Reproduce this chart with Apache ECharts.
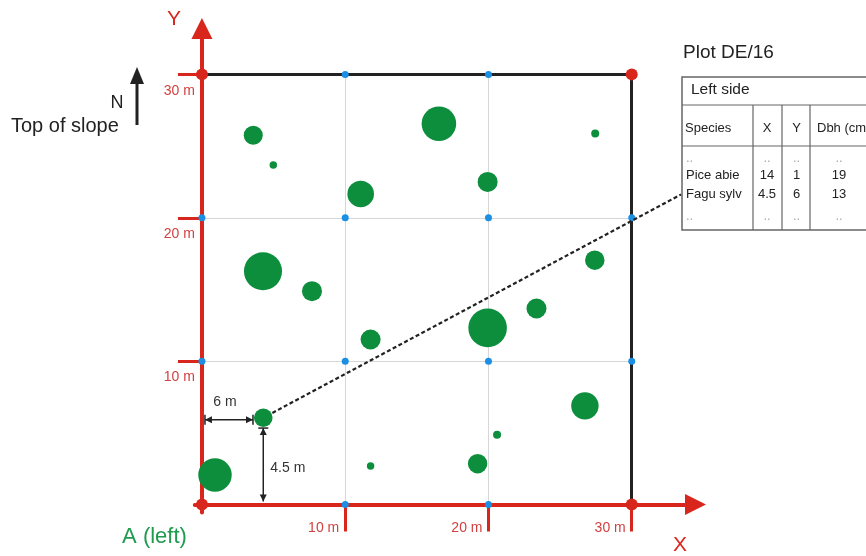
<!DOCTYPE html>
<html><head><meta charset="utf-8">
<script src="https://cdn.jsdelivr.net/npm/echarts@6/dist/echarts.min.js"></script>
<style>html,body{margin:0;padding:0;background:#fff}#c{width:866px;height:556px}</style>
</head><body><div id="c"></div>
<script>
// ---- data ----
const plotSize = 30;
const tickValues = [10, 20, 30];
const gridValues = [10, 20];
const treeX   = [3.58, 4.98, 11.08, 16.54, 27.45, 19.94, 4.26, 7.68, 11.77, 27.42, 23.35, 19.94, 4.28, 0.91, 11.77, 26.73, 20.6, 19.24];
const treeY   = [25.75, 23.68, 21.66, 26.56, 25.87, 22.5, 16.27, 14.88, 11.51, 17.04, 13.67, 12.32, 6.05, 2.06, 2.68, 6.88, 4.86, 2.85];
const treeDbh = [13.3, 5.2, 18.6, 24.2, 5.6, 14, 26.6, 14, 14, 13.6, 14, 27, 13, 23.4, 5.2, 19.2, 5.6, 13.6];
const featuredTree = 12;
const featuredDx = '6 m';
const featuredDy = '4.5 m';
const tableTitle = 'Plot DE/16';
const tableSide = 'Left side';
const tableColumns = ['Species', 'X', 'Y', 'Dbh (cm)'];
const tableSpecies = ['..', 'Pice abie', 'Fagu sylv', '..'];
const tableXv      = ['..', '14', '4.5', '..'];
const tableYv      = ['..', '1', '6', '..'];
const tableDbh     = ['..', '19', '13', '..'];

// ---- styles ----
const FONT = '"Liberation Sans", Arial, sans-serif';
const RED = '#d9261c', LABELRED = '#d2403f', GREEN = '#0c8e3c', BLUE = '#1b8fe3', INK = '#222';
const dbhToPx = 1.43;

const trees = treeX.map((x, i) => [x, treeY[i], treeDbh[i]]);
const nodes = [];
[0, ...gridValues, plotSize].forEach(a => [0, ...gridValues, plotSize].forEach(b => {
  const corner = (a === 0 || a === plotSize) && (b === 0 || b === plotSize);
  if (!corner) nodes.push([a, b]);
}));
const corners = [[0, 0], [0, plotSize], [plotSize, 0], [plotSize, plotSize]];
const gridLines = [];
gridValues.forEach(v => {
  gridLines.push({coords: [[v, 0], [v, plotSize]]});
  gridLines.push({coords: [[0, v], [plotSize, v]]});
});
const borderLines = [
  {coords: [[0, plotSize], [plotSize, plotSize]]},
  {coords: [[plotSize, plotSize], [plotSize, 0]]}
];

const chart = echarts.init(document.getElementById('c'), null, {renderer: 'canvas'});
const option = {
  animation: false,
  backgroundColor: '#fff',
  grid: {left: 194.8, right: 170.5, top: 28.5, bottom: 43.6, containLabel: false},
  xAxis: {
    type: 'value', min: -0.5, max: 34.45,
    axisLine: {show: true, onZero: true, symbol: ['none', 'triangle'], symbolSize: [21, 21], lineStyle: {color: RED, width: 4}},
    axisTick: {show: true, customValues: tickValues, length: 27, lineStyle: {color: RED, width: 3}},
    axisLabel: {show: true, customValues: tickValues, formatter: v => v + ' m', color: LABELRED, fontSize: 14, fontFamily: FONT, align: 'right', padding: [0, 6, 0, 0], margin: 9},
    splitLine: {show: false}
  },
  yAxis: {
    type: 'value', min: -0.55, max: 33.2,
    axisLine: {show: true, onZero: true, symbol: ['none', 'triangle'], symbolSize: [21, 21], lineStyle: {color: RED, width: 4}},
    axisTick: {show: true, customValues: tickValues, length: 24, lineStyle: {color: RED, width: 3}},
    axisLabel: {show: true, customValues: tickValues, formatter: v => '\n' + v + ' m', lineHeight: 33, color: LABELRED, fontSize: 14, fontFamily: FONT, verticalAlign: 'middle', margin: 0},
    splitLine: {show: false}
  },
  series: [
    {type: 'lines', coordinateSystem: 'cartesian2d', silent: true, z: 1, data: gridLines,
      lineStyle: {color: '#d6d6d6', width: 1, opacity: 1}},
    {type: 'lines', coordinateSystem: 'cartesian2d', silent: true, z: 2, data: borderLines,
      lineStyle: {color: INK, width: 3, opacity: 1}},
    {type: 'scatter', name: 'trees', z: 3, data: trees, symbol: 'circle',
      symbolSize: v => v[2] * dbhToPx, itemStyle: {color: GREEN, opacity: 1}, silent: true},
    {type: 'scatter', name: 'nodes', z: 4, data: nodes, symbol: 'circle', symbolSize: 7,
      itemStyle: {color: BLUE, opacity: 1}, silent: true},
    {type: 'scatter', name: 'corners', z: 5, data: corners, symbol: 'circle', symbolSize: 12,
      itemStyle: {color: RED, opacity: 1}, silent: true}
  ]
};
chart.setOption(option);

// ---- annotations (positions derived from the chart's own scales) ----
const P = (x, y) => chart.convertToPixel({gridIndex: 0}, [x, y]);
const g = [];
const txt = (x, y, s, size, color, align, extra) => g.push(Object.assign({
  type: 'text', x, y, silent: true, z: 20,
  style: {text: s, fontSize: size, fontFamily: FONT, fill: color, align: align || 'left', verticalAlign: 'middle'}
}, extra || {}));
const seg = (x1, y1, x2, y2, color, w, dash) => g.push({
  type: 'line', silent: true, z: 15, shape: {x1, y1, x2, y2},
  style: {stroke: color, lineWidth: w, lineDash: dash || null}
});
const tri = (pts, color) => g.push({type: 'polygon', silent: true, z: 16, shape: {points: pts}, style: {fill: color}});

// axis names & captions
txt(174, 19, 'Y', 21, RED, 'center');
txt(680, 545, 'X', 21, RED, 'center');
txt(154.5, 537, 'A (left)', 22, '#1f9a4f', 'center');
txt(117, 103, 'N', 18, INK, 'center');
txt(11, 126, 'Top of slope', 20, INK, 'left');
// north arrow
seg(137, 125, 137, 80, INK, 3);
tri([[137, 67], [130, 84], [144, 84]], INK);

// featured tree measurement
const ft = trees[featuredTree];
const c = P(ft[0], ft[1]);
const o = P(0, 0);
const r = ft[2] * dbhToPx / 2;
// horizontal dimension
const hy = c[1] + 2, hx1 = o[0] + 3, hx2 = c[0] - r - 1;
seg(hx1, hy, hx2, hy, INK, 1.5);
tri([[hx1, hy], [hx1 + 7, hy - 3.5], [hx1 + 7, hy + 3.5]], INK);
tri([[hx2, hy], [hx2 - 7, hy - 3.5], [hx2 - 7, hy + 3.5]], INK);
seg(hx1, hy - 5, hx1, hy + 5, INK, 1.5);
seg(hx2, hy - 5, hx2, hy + 5, INK, 1.5);
txt((hx1 + hx2) / 2 - 4, hy - 18, featuredDx, 14, '#333', 'center');
// vertical dimension
const vx = c[0], vy1 = c[1] + r + 1, vy2 = o[1] - 3;
seg(vx, vy1, vx, vy2, INK, 1.5);
tri([[vx, vy1], [vx - 3.5, vy1 + 7], [vx + 3.5, vy1 + 7]], INK);
tri([[vx, vy2], [vx - 3.5, vy2 - 7], [vx + 3.5, vy2 - 7]], INK);
seg(vx - 5, vy1, vx + 5, vy1, INK, 1.5);
txt(vx + 7, (vy1 + vy2) / 2 + 3, featuredDy, 14, '#333', 'left');

// table
const tL = 682, tT = 77, tB = 230, tR = 900;
const rowH1 = 105, rowH2 = 146;
const colX = [tL, 753, 782, 810, tR];
const TBL = '#666';
txt(683, 53, tableTitle, 19, INK, 'left');
g.push({type: 'rect', silent: true, z: 14, shape: {x: tL, y: tT, width: tR - tL, height: tB - tT},
  style: {fill: '#fff', stroke: TBL, lineWidth: 1.5}});
seg(tL, rowH1, tR, rowH1, TBL, 1.2);
seg(tL, rowH2, tR, rowH2, TBL, 1.2);
[1, 2, 3].forEach(i => seg(colX[i], rowH1, colX[i], tB, TBL, 1.2));
txt(691, 90, tableSide, 15.5, INK, 'left');
const colCenters = [null, 767, 796.5, 839];
txt(685, 128, tableColumns[0], 13, INK, 'left');
txt(colCenters[1], 128, tableColumns[1], 13, INK, 'center');
txt(colCenters[2], 128, tableColumns[2], 13, INK, 'center');
txt(817, 128, tableColumns[3], 13, INK, 'left');
const rowY = [158, 175, 194.5, 216];
tableSpecies.forEach((s, i) => {
  const dim = s === '..';
  const col = dim ? '#aaa' : INK;
  txt(686, rowY[i], s, 13, col, 'left');
  txt(colCenters[1], rowY[i], tableXv[i], 13, dim ? '#aaa' : INK, 'center');
  txt(colCenters[2], rowY[i], tableYv[i], 13, dim ? '#aaa' : INK, 'center');
  txt(colCenters[3], rowY[i], tableDbh[i], 13, dim ? '#aaa' : INK, 'center');
});

// leader line from featured tree to table row
const anchor = [tL - 1, rowY[2]];
const dx = anchor[0] - c[0], dy = anchor[1] - c[1], len = Math.hypot(dx, dy);
seg(c[0] + dx / len * (r + 1), c[1] + dy / len * (r + 1), anchor[0], anchor[1], INK, 2.2, [4, 2.5]);

chart.setOption({graphic: {elements: g}});
</script>
</body></html>
